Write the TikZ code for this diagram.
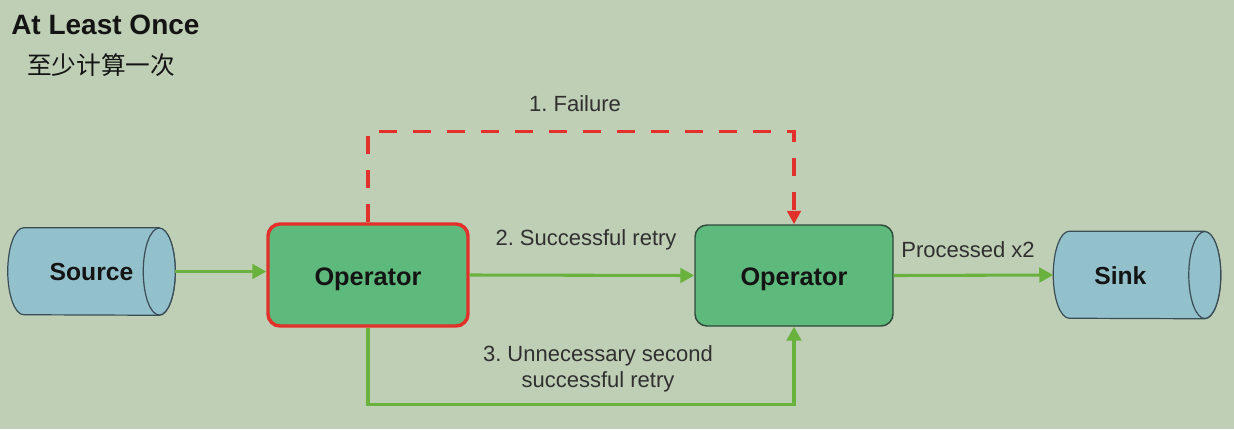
\documentclass[tikz,border=0pt]{standalone}
\usepackage{fontspec}
\setmainfont{Liberation Sans}
\newfontfamily\cjk{Noto Sans CJK SC}
\usetikzlibrary{arrows.meta,calc}
\frenchspacing
\definecolor{bgc}{HTML}{BFCFB5}
\definecolor{opfill}{HTML}{5DB97C}
\definecolor{opline}{HTML}{2F4A39}
\definecolor{redc}{HTML}{E2302A}
\definecolor{cylfill}{HTML}{92C1CC}
\definecolor{cylline}{HTML}{3A4C56}
\definecolor{greenc}{HTML}{6AB23E}
\definecolor{txtc}{HTML}{141414}
\definecolor{lblc}{HTML}{303030}
\pgfdeclarelayer{bgl}
\pgfdeclarelayer{cyl}
\pgfsetlayers{bgl,cyl,main}
\tikzset{
  opbox/.style={rectangle, rounded corners=9pt, fill=opfill, minimum width=150pt, minimum height=76.5pt,
    text height=15pt, text depth=0pt,
    font=\fontsize{19pt}{22pt}\selectfont\bfseries, text=txtc},
  store/.style={rectangle, minimum width=125.25pt, minimum height=65.25pt,
    text height=13.8pt, text depth=0pt,
    font=\fontsize{18.5pt}{22pt}\selectfont\bfseries, text=txtc},
  cylst/.style={fill=cylfill, draw=cylline, line width=0.9pt},
  flow/.style={draw=greenc, line width=2.3pt, -{Triangle[length=10.5pt,width=11pt]}},
  fail/.style={draw=redc, line width=2.6pt, dash pattern=on 13.5pt off 12pt, -{Triangle[length=10pt,width=10pt]}},
  lbl/.style={font=\fontsize{16.5pt}{21pt}\selectfont, text=lblc, inner sep=0pt}
}
\newcommand\drawcyl[1]{%
  \begin{pgfonlayer}{cyl}
    \path[cylst] ($(#1.north east)+(-16,0)$) -- ($(#1.north west)+(16,0)$)
      arc[start angle=90, end angle=270, x radius=12pt, y radius=32.625pt]
      -- ($(#1.south east)+(-16,0)$)
      arc[start angle=270, end angle=450, x radius=12pt, y radius=32.625pt] -- cycle;
    \path[cylst] ($(#1.east)+(-16,0)$) ellipse[x radius=12pt, y radius=32.625pt];
  \end{pgfonlayer}}
\begin{document}
\begin{tikzpicture}[x=0.75pt, y=-0.75pt]
  \begin{pgfonlayer}{bgl}
    \fill[bgc] (0,0) rectangle (1234,429);
  \end{pgfonlayer}
  \useasboundingbox (0,0) rectangle (1234,429);

  % titles
  \node[anchor=west, inner sep=0pt, font=\fontsize{21pt}{24pt}\selectfont\bfseries, text=txtc] (title) at (11,25) {At Least Once};
  \node[anchor=west, inner sep=0pt, font=\cjk\fontsize{18.5pt}{22pt}\selectfont, text=txtc] (sub) at (27,65) {至少计算一次};

  % nodes
  \node[store] (src) at (91.5,271.5) {Source};
  \drawcyl{src}
  \node[opbox, draw=redc, line width=2.6pt] (op1) at (368,275) {Operator};
  \node[opbox, draw=opline, line width=1.1pt, minimum width=148.5pt, minimum height=75.75pt] (op2) at (794,275.5) {Operator};
  \node[store] (sink) at (1137,275) {\hspace*{-25pt}Sink};
  \drawcyl{sink}

  % connectors
  \draw[flow] (src.east) -- (src.east -| op1.west);
  \draw[flow] (op1.east) -- (op2.west);
  \draw[flow] (op2.east) -- (sink.west);
  \draw[flow] (op1.south) -- ++(0,77) coordinate (bl) -| (op2.south);
  \draw[fail] (op1.north) -- ++(0,-91) coordinate (tl) -| (op2.north);

  % labels
  \node[lbl] (l1) at (575,104) {1. Failure};
  \node[lbl] (l2) at (586,240) {2. Successful retry};
  \node[lbl] (l3) at (598,369) {\begin{tabular}{@{}c@{}}3. Unnecessary second\\[-1pt]successful retry\end{tabular}};
  \node[lbl] (l4) at (968,250) {Processed x2};
\end{tikzpicture}
\end{document}
